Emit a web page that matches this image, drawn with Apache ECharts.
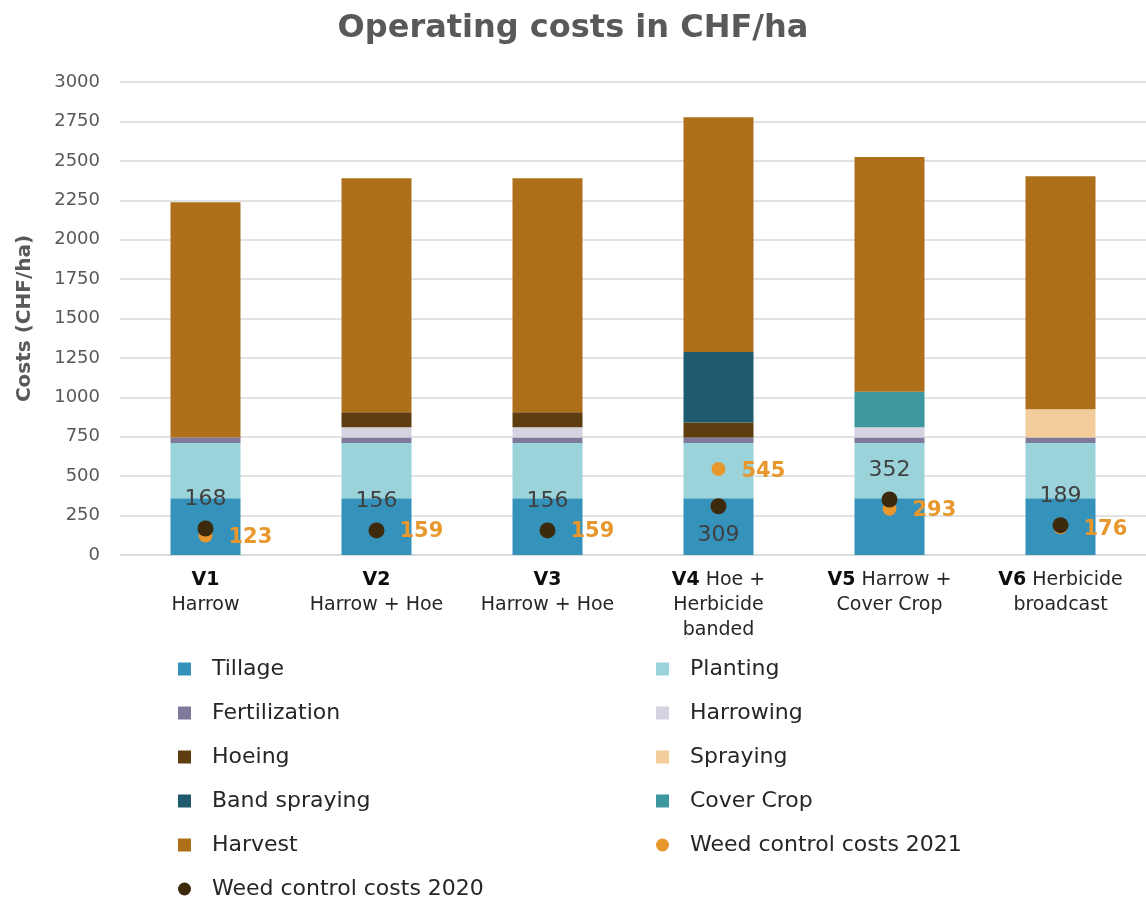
<!DOCTYPE html>
<html>
<head>
<meta charset="utf-8">
<title>Operating costs in CHF/ha</title>
<script src="https://cdn.jsdelivr.net/npm/echarts@6/dist/echarts.min.js"></script>
<style>
  html, body { margin: 0; padding: 0; background: #fff; }
  #chart { width: 1146px; height: 899px; }
</style>
</head>
<body>
<div id="chart"></div>
<script>
// categories (bold code + description)
const codes = ['V1', 'V2', 'V3', 'V4', 'V5', 'V6'];
const descriptions = ['Harrow', 'Harrow + Hoe', 'Harrow + Hoe', 'Hoe +\nHerbicide\nbanded', 'Harrow +\nCover Crop', 'Herbicide\nbroadcast'];

// cost components (CHF/ha)
const tillage      = [360, 360, 360, 360, 360, 360];
const planting     = [350, 350, 350, 350, 350, 350];
const fertilization = [35, 35, 35, 35, 35, 35];
const harrowing    = [0, 65, 65, 0, 65, 0];
const hoeing       = [0, 95, 95, 95, 0, 0];
const bandSpraying = [0, 0, 0, 447, 0, 0];
const coverCrop    = [0, 0, 0, 0, 225, 0];
const spraying     = [0, 0, 0, 0, 0, 179];
const harvest      = [1493, 1485, 1485, 1490, 1489, 1479];

// weed control costs
const weed2021 = [123, 159, 159, 545, 293, 176];
const weed2020 = [168, 156, 156, 309, 352, 189];

const yTicks = [0, 250, 500, 750, 1000, 1250, 1500, 1750, 2000, 2250, 2500, 2750, 3000];

(function () {
  let myChart = echarts.init(document.getElementById('chart'));
  const font = '"DejaVu Sans", sans-serif';

  const stackDefs = [
    ['Tillage', tillage, '#3592ba'],
    ['Planting', planting, '#9bd3db'],
    ['Fertilization', fertilization, '#7f7a9b'],
    ['Harrowing', harrowing, '#d5d3e0'],
    ['Hoeing', hoeing, '#5e3d10'],
    ['Band spraying', bandSpraying, '#1f5a6e'],
    ['Cover Crop', coverCrop, '#3d979e'],
    ['Spraying', spraying, '#f2cd9b'],
    ['Harvest', harvest, '#ad6f1a']
  ];

  const barSeries = stackDefs.map(function (d) {
    return {
      name: d[0],
      type: 'bar',
      stack: 'cost',
      barWidth: 70,
      data: d[1],
      itemStyle: { color: d[2] }
    };
  });

  const legendText = { fontSize: 22, color: '#262626', padding: [0, 0, 0, 16] };

  let option = {
    animation: false,
    textStyle: { fontFamily: font },
    title: {
      text: 'Operating costs in CHF/ha',
      left: 'center',
      top: 8,
      textStyle: { fontSize: 32, fontWeight: 'bold', color: '#595959', fontFamily: font }
    },
    legend: [
      {
        orient: 'vertical',
        left: 178,
        top: 658,
        height: 320,
        padding: 0,
        itemGap: 22,
        itemWidth: 13,
        itemHeight: 13,
        textStyle: legendText,
        data: [
          { name: 'Tillage', icon: 'rect' },
          { name: 'Fertilization', icon: 'rect' },
          { name: 'Hoeing', icon: 'rect' },
          { name: 'Band spraying', icon: 'rect' },
          { name: 'Harvest', icon: 'rect' },
          { name: 'Weed control costs 2020', icon: 'circle' }
        ]
      },
      {
        orient: 'vertical',
        left: 656,
        top: 658,
        height: 320,
        padding: 0,
        itemGap: 22,
        itemWidth: 13,
        itemHeight: 13,
        textStyle: legendText,
        data: [
          { name: 'Planting', icon: 'rect' },
          { name: 'Harrowing', icon: 'rect' },
          { name: 'Spraying', icon: 'rect' },
          { name: 'Cover Crop', icon: 'rect' },
          { name: 'Weed control costs 2021', icon: 'circle' }
        ]
      }
    ],
    grid: {
      left: 120,
      top: 82,
      width: 1032,
      height: 473,
      containLabel: false
    },
    xAxis: {
      type: 'category',
      data: codes,
      axisLine: { lineStyle: { color: '#d9d9d9', width: 1.5 } },
      axisTick: { show: false },
      axisLabel: {
        interval: 0,
        margin: 13,
        formatter: function (v, i) {
          const desc = descriptions[i];
          if (i < 3) {
            return '{b|' + v + '}\n{n|' + desc + '}';
          }
          const lines = desc.split('\n');
          let s = '{b|' + v + '}{n| ' + lines[0] + '}';
          for (let k = 1; k < lines.length; k++) s += '\n{n|' + lines[k] + '}';
          return s;
        },
        rich: {
          b: { fontSize: 19, fontWeight: 'bold', color: '#0d0d0d', lineHeight: 25, fontFamily: font },
          n: { fontSize: 19, color: '#262626', lineHeight: 25, fontFamily: font }
        }
      }
    },
    yAxis: {
      type: 'value',
      min: 0,
      max: 3000,
      interval: 250,
      name: 'Costs (CHF/ha)',
      nameLocation: 'middle',
      nameGap: 85,
      nameTextStyle: { fontSize: 20, fontWeight: 'bold', color: '#595959' },
      axisLabel: {
        fontSize: 18,
        color: '#595959',
        margin: 20,
        formatter: function (v) { return yTicks.indexOf(v) >= 0 ? String(v) : ''; }
      },
      splitLine: { lineStyle: { color: '#d9d9d9', width: 1.5 } }
    },
    series: barSeries.concat([
      {
        name: 'Weed control costs 2021',
        type: 'scatter',
        symbolSize: 14,
        z: 5,
        itemStyle: { color: '#e8972c', opacity: 1 },
        data: weed2021,
        label: {
          show: true,
          position: 'right',
          distance: 16,
          fontSize: 21,
          fontWeight: 'bold',
          color: '#e8972c',
          offset: [0, 2]
        }
      },
      {
        name: 'Weed control costs 2020',
        type: 'scatter',
        symbolSize: 16,
        z: 6,
        itemStyle: { color: '#3d2a0c', opacity: 1 },
        data: weed2020.map(function (v, i) {
          // V4 label sits below its point
          if (i === 3) return { value: v, label: { position: 'bottom' } };
          return v;
        }),
        label: {
          show: true,
          position: 'top',
          distance: 10,
          fontSize: 22,
          color: '#404040'
        }
      }
    ])
  };

  myChart.setOption(option);
  window.addEventListener('resize', function () {
    myChart.resize();
  });
})();
</script>
</body>
</html>
